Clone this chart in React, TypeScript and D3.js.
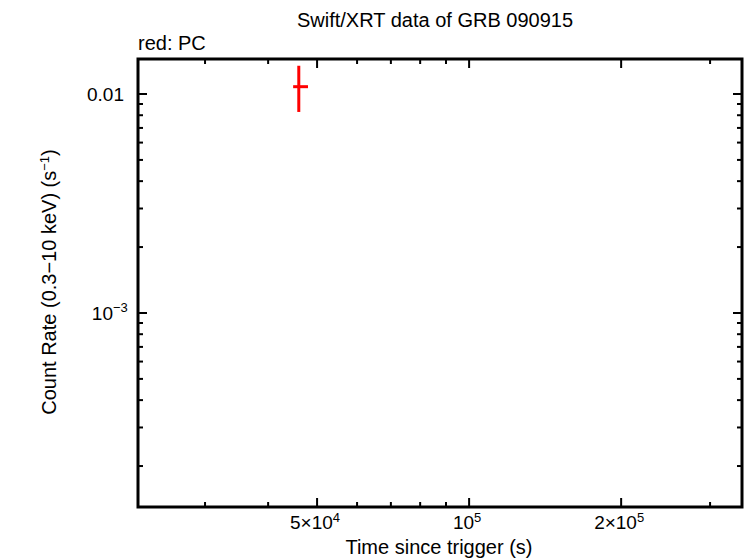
import React from "react";
import * as d3 from "d3";

const W = 746;
const H = 558;

const title = "Swift/XRT data of GRB 090915";
const legendLabel = "red: PC";
const xLabel = "Time since trigger (s)";

// data (PC mode)
const pcTime = [46000];
const pcTimeLo = [44830];
const pcTimeHi = [47970];
const pcRate = [0.0108];
const pcRateLo = [0.00828];
const pcRateHi = [0.01346];

const xDomain = [22100, 347000];
const yDomain = [1.3e-4, 0.01445];

const xMajorTicks = [5e4, 1e5, 2e5];
const xMajorLabels = [["5×10", "4"], ["10", "5"], ["2×10", "5"]];
const xMinorTicks = [3e4, 4e4, 6e4, 7e4, 8e4, 9e4, 3e5];

const yMajorTicks = [1e-3, 1e-2];
const yMinorTicks = [2e-4, 3e-4, 4e-4, 5e-4, 6e-4, 7e-4, 8e-4, 9e-4, 2e-3, 3e-3, 4e-3, 5e-3, 6e-3, 7e-3, 8e-3, 9e-3];

export default function App() {
  const L = 138, R = 742, T = 59, B = 507;
  const x = d3.scaleLog().domain(xDomain).range([L, R]);
  const y = d3.scaleLog().domain(yDomain).range([B, T]);
  const font = "'Liberation Sans', Arial, Helvetica, sans-serif";
  const red = "#ff0000";
  const majorLen = 9;
  const minorLen = 5;

  return (
    <svg width={W} height={H} style={{ position: "absolute", left: 0, top: 0, background: "#fff" }} fontFamily={font}>
      <rect x={0} y={0} width={W} height={H} fill="#fff" />
      <text x={435} y={27} textAnchor="middle" fontSize={20}>{title}</text>
      <text x={138} y={50} fontSize={20}>{legendLabel}</text>

      {/* x ticks */}
      {xMajorTicks.map((t, i) => (
        <g key={"xm" + i}>
          <line x1={x(t)} x2={x(t)} y1={B} y2={B - majorLen} stroke="#000" strokeWidth={2} />
          <line x1={x(t)} x2={x(t)} y1={T} y2={T + majorLen} stroke="#000" strokeWidth={2} />
          <text x={x(t) - 2} y={529} textAnchor="middle" fontSize={19}>
            {xMajorLabels[i][0]}
            <tspan dy={-7} fontSize={13}>{xMajorLabels[i][1]}</tspan>
          </text>
        </g>
      ))}
      {xMinorTicks.map((t, i) => (
        <g key={"xn" + i}>
          <line x1={x(t)} x2={x(t)} y1={B} y2={B - minorLen} stroke="#000" strokeWidth={2} />
          <line x1={x(t)} x2={x(t)} y1={T} y2={T + minorLen} stroke="#000" strokeWidth={2} />
        </g>
      ))}

      {/* y ticks */}
      {yMajorTicks.map((t, i) => (
        <g key={"ym" + i}>
          <line x1={L} x2={L + majorLen} y1={y(t)} y2={y(t)} stroke="#000" strokeWidth={2} />
          <line x1={R} x2={R - majorLen} y1={y(t)} y2={y(t)} stroke="#000" strokeWidth={2} />
        </g>
      ))}
      {yMinorTicks.map((t, i) => (
        <g key={"yn" + i}>
          <line x1={L} x2={L + minorLen} y1={y(t)} y2={y(t)} stroke="#000" strokeWidth={2} />
          <line x1={R} x2={R - minorLen} y1={y(t)} y2={y(t)} stroke="#000" strokeWidth={2} />
        </g>
      ))}
      <text x={124} y={y(1e-2) + 7} textAnchor="end" fontSize={19}>0.01</text>
      <text x={113} y={y(1e-3) + 7} textAnchor="end" fontSize={19}>10</text>
      <text x={113} y={y(1e-3) - 1} textAnchor="start" fontSize={13}>−3</text>

      {/* frame */}
      <rect x={L} y={T} width={R - L} height={B - T} fill="none" stroke="#000" strokeWidth={3} />

      {/* data */}
      {pcTime.map((t, i) => (
        <g key={"pc" + i} stroke={red} strokeWidth={3}>
          <line x1={x(pcTimeLo[i])} x2={x(pcTimeHi[i])} y1={y(pcRate[i])} y2={y(pcRate[i])} />
          <line x1={x(t)} x2={x(t)} y1={y(pcRateLo[i])} y2={y(pcRateHi[i])} />
        </g>
      ))}

      <text x={439} y={554} textAnchor="middle" fontSize={20}>{xLabel}</text>
      <text transform={`translate(56,282) rotate(-90)`} textAnchor="middle" fontSize={20}>
        Count Rate (0.3−10 keV) (s
        <tspan dy={-7} fontSize={13}>−1</tspan>
        <tspan dy={7}>)</tspan>
      </text>
    </svg>
  );
}
